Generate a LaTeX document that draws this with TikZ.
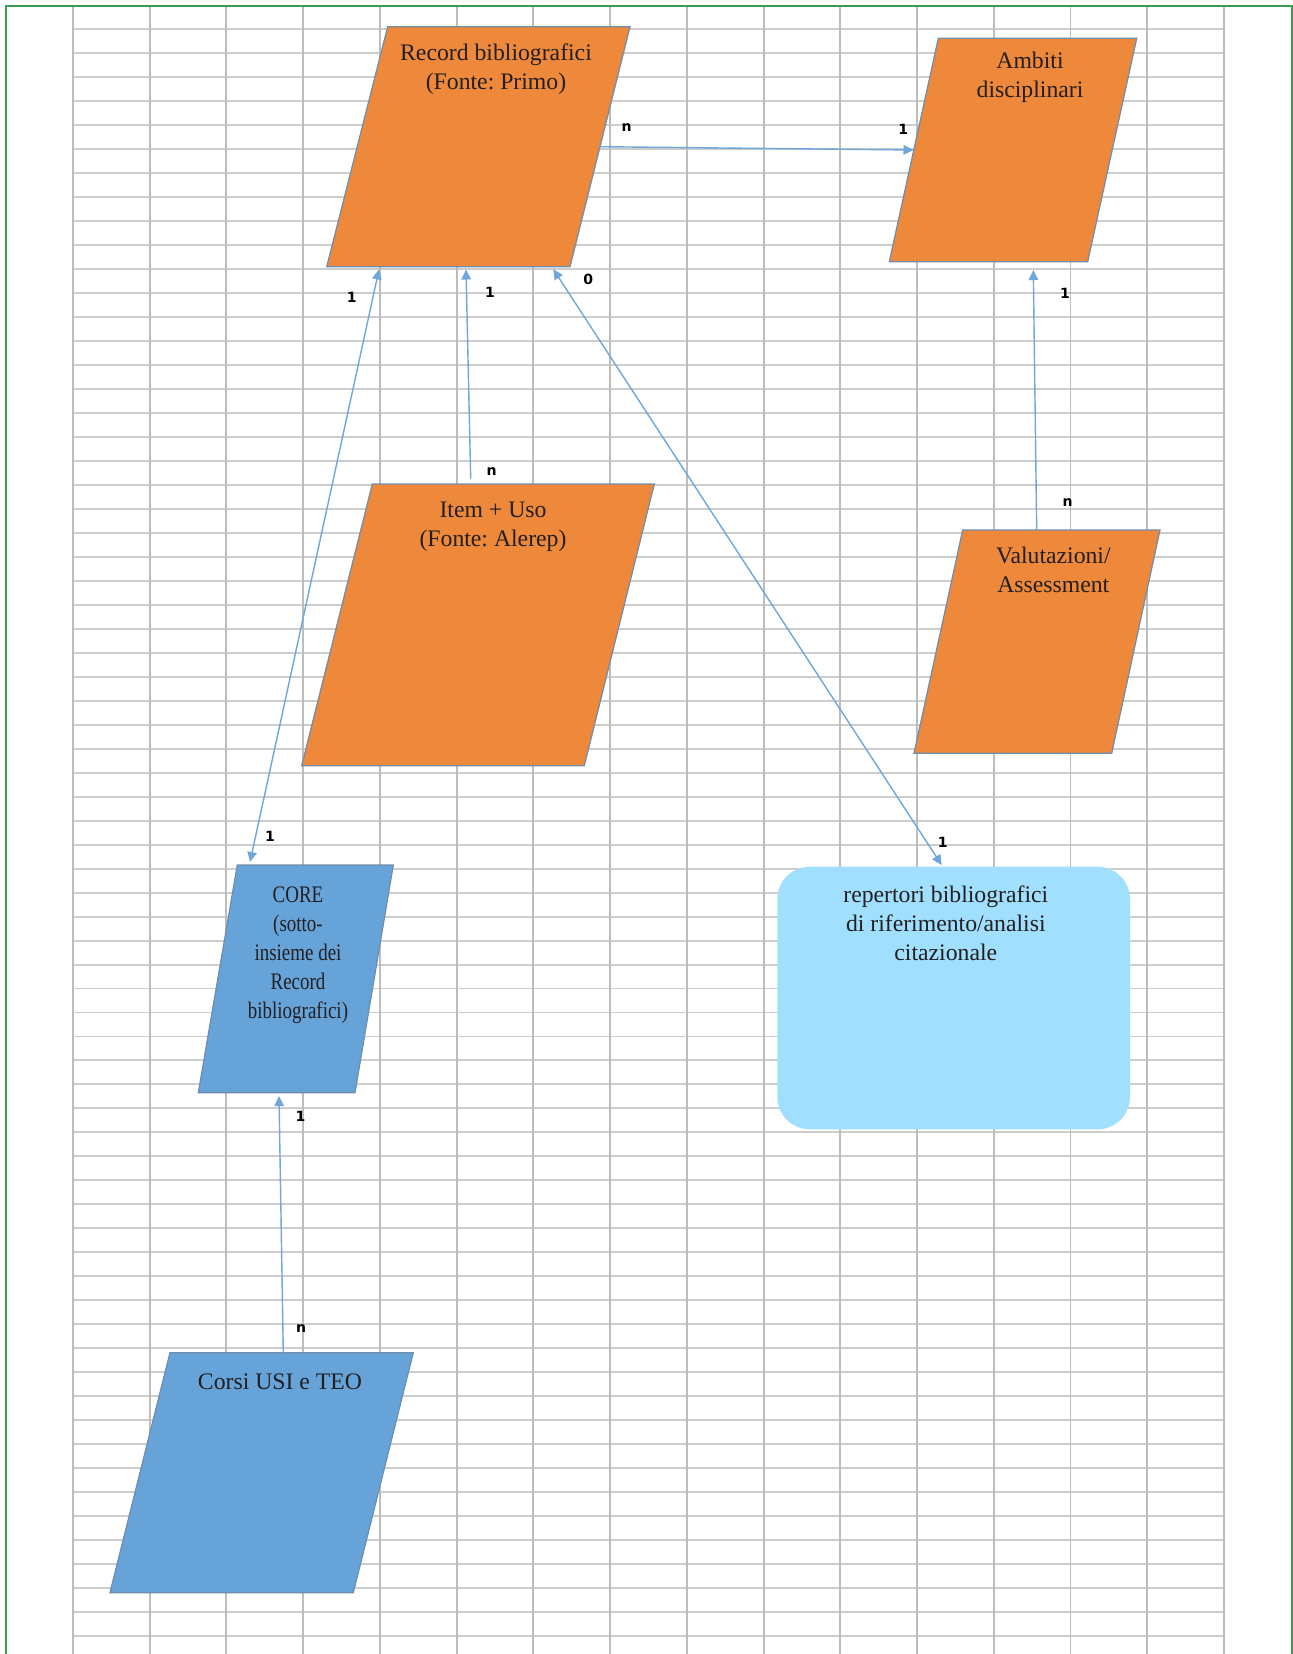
\documentclass[tikz,border=0pt]{standalone}
\usepackage{fontspec}
\setmainfont{Liberation Serif}
\newfontfamily\labfont{DejaVu Sans}
\newfontfamily\narrowfont[FakeStretch=0.8]{Liberation Serif}
\frenchspacing
\usetikzlibrary{arrows.meta}
\definecolor{gridCol}{HTML}{BDBDBD}
\definecolor{gridRow}{HTML}{CDCDCD}
\definecolor{frameGreen}{HTML}{3D9A52}
\definecolor{boxOrange}{HTML}{EE883A}
\definecolor{boxBlue}{HTML}{66A3D9}
\definecolor{boxSky}{HTML}{A0DFFE}
\definecolor{boxEdge}{HTML}{6F8DAD}
\definecolor{linkBlue}{HTML}{6FA6DB}
\definecolor{inkGray}{HTML}{231F20}
\tikzset{grid col/.style={gridCol, line width=1.1pt}}
\tikzset{grid row/.style={gridRow, line width=1.1pt}}
\tikzset{page frame/.style={frameGreen, line width=1.1pt}}
\tikzset{
	orange box/.style={fill=boxOrange, draw=boxEdge, line width=0.7pt},
	blue box/.style={fill=boxBlue, draw=boxEdge, line width=0.7pt},
	sky box/.style={fill=boxSky, rounded corners=0.65cm},
	box text/.style={anchor=north, inner sep=0pt, align=center, text=inkGray,
		font=\fontsize{13.5}{16.5}\selectfont},
	narrow text/.style={box text, font=\narrowfont\fontsize{13.5}{16.5}\selectfont},
	link/.style={linkBlue, line width=0.8pt, -{Triangle[length=2mm,width=1.9mm]}},
	link both/.style={linkBlue, line width=0.8pt, {Triangle[length=2mm,width=1.9mm]}-{Triangle[length=2mm,width=1.9mm]}},
	card lab/.style={inner sep=0pt, font=\labfont\bfseries\fontsize{8}{8}\selectfont}
}

\begin{document}
\begin{tikzpicture}[x=0.02cm, y=-0.02cm]
	\useasboundingbox (0,0) rectangle (1293,1654);
	% sheet grid
	\foreach \k in {0,...,67}
		\draw[grid row] (73,{29.3+23.98*\k}) -- (1224,{29.3+23.98*\k});
	\foreach \k in {0,...,15}
		\draw[grid col] ({73+76.73*\k},6) -- ({73+76.73*\k},1654);
	\draw[page frame] (6,1654) -- (6,6) -- (1292,6) -- (1292,1654);

	\draw[orange box] (387.7,26.7) -- (630,26.7) -- (570,266.7) -- (326.7,266.7) -- cycle;
	\draw[orange box] (938.3,38.3) -- (1136.7,38.3) -- (1087.7,261.7) -- (889.3,261.7) -- cycle;
	\draw[orange box] (372.3,484) -- (654.3,484) -- (584.3,765.7) -- (301.7,765.7) -- cycle;
	\draw[orange box] (962.7,530) -- (1160,530) -- (1111.7,753.3) -- (914,753.3) -- cycle;
	\draw[blue box] (237.3,865) -- (393.3,865) -- (355,1092.7) -- (198.3,1092.7) -- cycle;
	\fill[sky box] (777.3,866.7) rectangle (1130,1129.3);
	\draw[blue box] (170,1352.7) -- (413.3,1352.7) -- (353.3,1592.7) -- (110,1592.7) -- cycle;

	\node[box text] at (496,43.8) (rec) {Record bibliografici\\(Fonte: Primo)};
	\node[box text] at (1030,51.5) (amb) {Ambiti\\disciplinari};
	\node[box text] at (493,502.1) (item) {Item + Uso\\(Fonte: Alerep)};
	\node[box text] at (1053.3,547.1) (val) {Valutazioni/\\Assessment};
	\node[narrow text] at (298,886.5) (core) {CORE\\(sotto-\\insieme dei\\Record\\bibliografici)};
	\node[box text] at (945.8,885.5) (rep) {repertori bibliografici\\di riferimento/analisi\\citazionale};
	\node[box text] at (280,1373.8) (corsi) {Corsi USI e TEO};

	\coordinate (rec-e) at (600,146.7);
	\coordinate (rec-s1) at (379,269.5);
	\coordinate (rec-s2) at (466,269.5);
	\coordinate (rec-s3) at (553.3,269.3);
	\coordinate (amb-w) at (913.5,150);
	\coordinate (amb-s) at (1033.3,270);
	\coordinate (item-n) at (470.7,478.5);
	\coordinate (val-n) at (1036.7,530);
	\coordinate (core-n) at (250,862);
	\coordinate (core-s) at (279,1096);
	\coordinate (rep-n) at (941.7,865);
	\coordinate (corsi-n) at (283.3,1352.7);

	\draw[link] (rec-e) -- (amb-w);
	\draw[link both] (core-n) -- (rec-s1);
	\draw[link] (item-n) -- (rec-s2);
	\draw[link both] (rep-n) -- (rec-s3);
	\draw[link] (val-n) -- (amb-s);
	\draw[link] (corsi-n) -- (core-s);

	\node[card lab] at (626.7,128) (rec-amb-n) {n};
	\node[card lab] at (903.3,129.3) (rec-amb-1) {1};
	\node[card lab] at (351.7,297) (core-rec-1) {1};
	\node[card lab] at (270,836.7) (core-rec-2) {1};
	\node[card lab] at (490,292.5) (item-rec-1) {1};
	\node[card lab] at (491.7,471.7) (item-rec-n) {n};
	\node[card lab] at (588.3,279.3) (rep-rec-0) {0};
	\node[card lab] at (942.7,842.7) (rep-rec-1) {1};
	\node[card lab] at (1065,293.3) (val-amb-1) {1};
	\node[card lab] at (1067.7,502.7) (val-amb-n) {n};
	\node[card lab] at (300.5,1116) (corsi-core-1) {1};
	\node[card lab] at (301,1328.3) (corsi-core-n) {n};
\end{tikzpicture}
\end{document}
